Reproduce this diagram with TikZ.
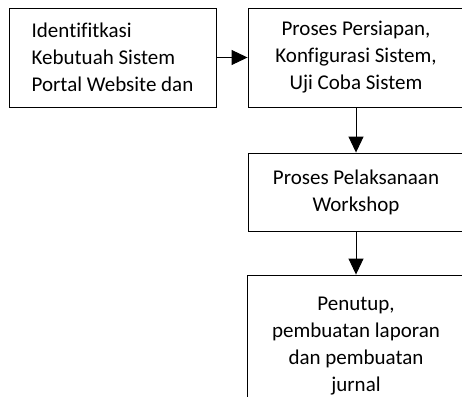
\documentclass[tikz,border=0pt]{standalone}
\usepackage{fontspec}
\setmainfont{Carlito}[Ligatures=NoCommon]
\usetikzlibrary{positioning}
\usetikzlibrary{arrows.meta}
\tikzstyle{block}    = [rectangle, draw, line width=0.9pt, fill=white, text centered, inner sep=0pt, font=\fontsize{21}{27}\selectfont]
\tikzstyle{line}     = [draw, line width=0.9pt, -{Triangle[length=16pt, width=15pt]}]

\begin{document}
\begin{tikzpicture}[x=1pt, y=1pt, node distance=134.5pt]
        \clip (0,0) rectangle (462,-396);
        \node [block, minimum width=207pt, minimum height=99pt, align=left] (st1) at (112.5,-57.5) {Identifitkasi\\Kebutuah Sistem\\Portal Website dan};
        \node [block, right of=st1, node distance=243.5pt, minimum width=216pt, minimum height=99pt, align=center] (st2) {Proses Persiapan,\\Konfigurasi Sistem,\\Uji Coba Sistem};
        \node [block, below of=st2, minimum width=216pt, minimum height=78pt, align=center] (st3) {Proses Pelaksanaan\\Workshop};
        \node [block, below of=st3, node distance=154pt, minimum width=218pt, minimum height=142pt, align=center] (st4) {Penutup,\\pembuatan laporan\\dan pembuatan\\jurnal};
        \path [line] (st1) -- (st2);
        \path [line] (st2) -- (st3);
        \path [line] (st3) -- (st4);
    \end{tikzpicture}
\end{document}
